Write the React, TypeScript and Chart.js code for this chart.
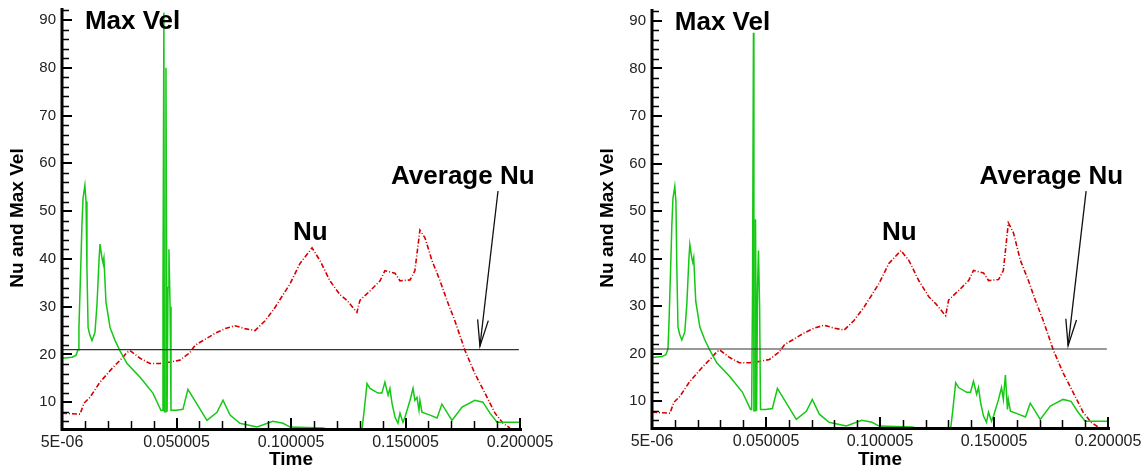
import React, { useEffect, useRef } from 'react';
import { Chart, registerables } from 'chart.js';

Chart.register(...registerables);

const FONT = '"Liberation Sans", Arial, Helvetica, sans-serif';

// ---- axis ticks ----
const xTickValues = [0.000005, 0.050005, 0.100005, 0.150005, 0.200005];
const xTickLabels = ['5E-06', '0.050005', '0.100005', '0.150005', '0.200005'];
const yTickValues = [10, 20, 30, 40, 50, 60, 70, 80, 90];

// ---- Max Vel (green) ----
const velTime = [
  0.000005, 0.0044, 0.0061, 0.0070, 0.0074, 0.0083, 0.0087, 0.0092, 0.0100, 0.0105,
  0.0109, 0.0114, 0.0122, 0.0131, 0.0144, 0.0153, 0.0162, 0.0166, 0.0175, 0.0179,
  0.0183, 0.0192, 0.0210, 0.0231, 0.0253, 0.0284, 0.0341, 0.0397, 0.0432, 0.0437,
  0.0441, 0.0445, 0.0447, 0.0452, 0.0454, 0.0459, 0.0463, 0.0467, 0.0472, 0.0476,
  0.0498, 0.0528, 0.0550, 0.0633, 0.0677, 0.0703, 0.0734, 0.0777, 0.0852, 0.0921,
  0.0965, 0.0996, 0.1140, 0.1192, 0.1301, 0.1310, 0.1319, 0.1332, 0.1345, 0.1380,
  0.1397, 0.1410, 0.1424, 0.1432, 0.1441, 0.1454, 0.1467, 0.1476, 0.1489, 0.1498,
  0.1520, 0.1533, 0.1541, 0.1550, 0.1559, 0.1563, 0.1572, 0.1607, 0.1638, 0.1659,
  0.1703, 0.1747, 0.1803, 0.1838, 0.1869, 0.1900, 0.2000,
];
const maxVelLeft = [
  19.2, 19.4, 19.8, 21, 25.6, 40, 47, 52.7, 55.4, 52,
  38, 25.6, 24, 22.9, 24.6, 30.6, 40, 43.1, 40, 39.2,
  40.2, 31, 25.6, 23, 20.8, 18.1, 15.2, 11.9, 8.3, 8.3,
  33, 91.5, 8, 8, 80, 8, 34, 42, 30, 8.3,
  8.3, 8.5, 12.7, 6.2, 7.9, 10.4, 7.3, 5.6, 4.8, 6.0,
  5.6, 4.8, 4.6, 4.0, 4.0, 4.3, 8, 13.9, 12.9, 11.9,
  11.9, 14.2, 11.5, 12.9, 9.8, 6.9, 5.6, 7.7, 5.8, 6.9,
  10.4, 12.9, 10.4, 11, 8.3, 10.4, 7.9, 7.3, 6.7, 9.6,
  6.2, 9.0, 10.4, 10.0, 7.7, 5.8, 5.8,
];
const maxVelRight = [
  19.2, 19.4, 19.8, 21, 25.6, 40, 47, 52.7, 55.2, 52,
  38, 25.6, 24, 22.9, 24.6, 30.6, 40, 43.0, 40, 39.2,
  40.2, 31, 25.6, 23, 20.8, 18.1, 15.2, 11.9, 8.3, 8.3,
  33, 87.5, 8, 8, 48.3, 8, 34, 41.7, 30, 8.3,
  8.3, 8.5, 12.7, 6.2, 7.9, 10.4, 7.3, 5.6, 4.8, 6.0,
  5.6, 4.8, 4.6, 4.0, 4.0, 4.3, 8, 13.9, 12.9, 11.9,
  11.9, 14.2, 11.5, 12.9, 9.8, 6.9, 5.6, 7.7, 5.8, 6.9,
  10.4, 12.9, 10.4, 15.5, 8.3, 10.4, 7.9, 7.3, 6.7, 9.6,
  6.2, 9.0, 10.4, 10.0, 7.7, 5.8, 5.8,
];

// ---- Nu (red) ----
const nuTime = [
  0.000005, 0.0079, 0.0096, 0.0122, 0.0166, 0.0223, 0.0262, 0.0284, 0.0297, 0.0341,
  0.0384, 0.0428, 0.0472, 0.0515, 0.0559, 0.0581, 0.0616, 0.0668, 0.0712, 0.0755,
  0.0799, 0.0843, 0.0886, 0.0930, 0.0996, 0.1039, 0.1092, 0.1127, 0.1170, 0.1214,
  0.1245, 0.1288, 0.1301, 0.1345, 0.1389, 0.1410, 0.1454, 0.1476, 0.1520, 0.1541,
  0.1563, 0.1585, 0.1616, 0.1651, 0.1681, 0.1716, 0.1760, 0.1803, 0.1847, 0.1891,
  0.1926, 0.1956,
];
const nuLeft = [
  7.7, 7.5, 9.8, 11, 14.2, 17.3, 19.2, 20.4, 20.8, 19.2,
  18.1, 18.1, 18.4, 18.8, 20.4, 21.9, 22.9, 24.4, 25.4, 26,
  25.4, 25, 27, 29.8, 34.8, 39, 42.3, 39.6, 35.4, 32.5,
  31.3, 28.8, 31.3, 33.3, 35.4, 37.5, 37, 35.4, 35.6, 37.5,
  46, 44.4, 39.6, 35.4, 31.3, 27, 20.8, 16, 11.9, 7.7,
  5.6, 4.6,
];
const nuRight = [
  7.7, 7.5, 9.8, 11, 14.2, 17.3, 19.2, 20.4, 20.8, 19.2,
  18.1, 18.1, 18.4, 18.8, 20.4, 21.9, 22.9, 24.4, 25.4, 26,
  25.4, 25, 27, 29.8, 34.8, 39, 41.7, 39.6, 35.4, 32.0,
  30.5, 28.0, 31.3, 33.3, 35.4, 37.5, 37, 35.4, 35.6, 37.5,
  47.5, 45.5, 39.6, 35.4, 31.3, 27, 20.8, 16, 11.9, 7.7,
  5.6, 4.6,
];

// ---- Average Nu (black) ----
const avgTime = [0.000005, 0.1995];
const avgNu = [21, 21];

type PanelProps = {
  vel: number[];
  nu: number[];
  left: number;
  width: number;
  padTop: number;
  chartBottom: number;
  padRight: number;
};

const H = 473;

const axesPlugin = {
  id: 'inwardAxes',
  afterDatasetsDraw(chart: any) {
    const { ctx, chartArea } = chart;
    const xs = chart.scales.x;
    const ys = chart.scales.y;
    const { left, right, top, bottom } = chartArea;
    ctx.save();
    ctx.strokeStyle = '#000';
    ctx.lineCap = 'butt';
    ctx.lineWidth = 1.5;
    for (let v = 6; v <= 92; v += 2) {
      if (v % 10 === 0) continue;
      const p = Math.round(ys.getPixelForValue(v)) + 0.5;
      ctx.beginPath();
      ctx.moveTo(left, p);
      ctx.lineTo(left + 7, p);
      ctx.stroke();
    }
    ctx.lineWidth = 2;
    for (const v of yTickValues) {
      const p = Math.round(ys.getPixelForValue(v));
      ctx.beginPath();
      ctx.moveTo(left, p);
      ctx.lineTo(left + 10, p);
      ctx.stroke();
    }
    ctx.lineWidth = 1.5;
    for (let k = 1; k < 20; k++) {
      if (k % 5 === 0) continue;
      const p = Math.round(xs.getPixelForValue(0.000005 + k * 0.01)) + 0.5;
      ctx.beginPath();
      ctx.moveTo(p, bottom);
      ctx.lineTo(p, bottom - 7);
      ctx.stroke();
    }
    ctx.lineWidth = 2;
    for (const v of xTickValues) {
      const p = Math.round(xs.getPixelForValue(v));
      ctx.beginPath();
      ctx.moveTo(p, bottom);
      ctx.lineTo(p, bottom - 10);
      ctx.stroke();
    }
    ctx.lineWidth = 3;
    ctx.beginPath();
    ctx.moveTo(left, top);
    ctx.lineTo(left, bottom + 1.5);
    ctx.lineTo(right + 2, bottom + 1.5);
    ctx.stroke();
    ctx.restore();
  },
};

const annotationSpec = {
  texts: [
    { text: 'Max Vel', x: 0.0100, y: 88.1 },
    { text: 'Nu', x: 0.1009, y: 44.0 },
    { text: 'Average Nu', x: 0.1437, y: 55.6 },
  ],
  arrow: { fromX: 0.1904, fromY: 54.2, toX: 0.1825, toY: 21.7 },
};

const annotationPlugin = {
  id: 'annotations',
  afterDraw(chart: any) {
    const { ctx } = chart;
    const xs = chart.scales.x;
    const ys = chart.scales.y;
    ctx.save();
    ctx.fillStyle = '#000';
    ctx.font = `bold 26px ${FONT}`;
    ctx.textAlign = 'left';
    ctx.textBaseline = 'alphabetic';
    for (const t of annotationSpec.texts) {
      ctx.fillText(t.text, xs.getPixelForValue(t.x), ys.getPixelForValue(t.y));
    }
    const a = annotationSpec.arrow;
    const x1 = xs.getPixelForValue(a.fromX);
    const y1 = ys.getPixelForValue(a.fromY);
    const x2 = xs.getPixelForValue(a.toX);
    const y2 = ys.getPixelForValue(a.toY);
    ctx.strokeStyle = '#111';
    ctx.lineWidth = 1.3;
    ctx.beginPath();
    ctx.moveTo(x1, y1);
    ctx.lineTo(x2, y2);
    ctx.stroke();
    const ang = Math.atan2(y1 - y2, x1 - x2);
    const len = 27;
    const spread = 0.2;
    ctx.beginPath();
    ctx.moveTo(x2 + len * Math.cos(ang - spread), y2 + len * Math.sin(ang - spread));
    ctx.lineTo(x2, y2);
    ctx.lineTo(x2 + len * Math.cos(ang + spread), y2 + len * Math.sin(ang + spread));
    ctx.stroke();
    ctx.restore();
  },
};

function Panel({ vel, nu, left, width, padTop, chartBottom, padRight }: PanelProps) {
  const ref = useRef<HTMLCanvasElement | null>(null);
  useEffect(() => {
    if (!ref.current) return;
    const chart = new Chart(ref.current, {
      type: 'line',
      data: {
        datasets: [
          {
            label: 'Average Nu',
            data: avgTime.map((t, i) => ({ x: t, y: avgNu[i] })),
            borderColor: '#333',
            borderWidth: 1.2,
            pointRadius: 0,
            tension: 0,
          },
          {
            label: 'Max Vel',
            data: velTime.map((t, i) => ({ x: t, y: vel[i] })),
            borderColor: '#14c814',
            borderWidth: 1.5,
            pointRadius: 0,
            tension: 0,
          },
          {
            label: 'Nu',
            data: nuTime.map((t, i) => ({ x: t, y: nu[i] })),
            borderColor: '#d60000',
            borderWidth: 1.6,
            borderDash: [5, 2, 1, 2],
            pointRadius: 0,
            tension: 0,
          },
        ],
      },
      options: {
        animation: false,
        responsive: false,
        devicePixelRatio: 1,
        layout: { padding: { left: 0, top: padTop, right: padRight, bottom: 0 } },
        plugins: { legend: { display: false }, tooltip: { enabled: false } },
        scales: {
          x: {
            type: 'linear',
            min: 0.000005,
            max: 0.200005,
            afterBuildTicks: (s: any) => {
              s.ticks = xTickValues.map((v) => ({ value: v }));
            },
            afterFit: (s: any) => {
              s.height = H - chartBottom;
              s.paddingLeft = 0;
              s.paddingRight = 0;
            },
            grid: { display: false, drawTicks: false },
            border: { display: false },
            ticks: {
              autoSkip: false,
              maxRotation: 0,
              padding: 5,
              color: '#222',
              font: { family: FONT, size: 16 },
              callback: (v: any) => xTickLabels[xTickValues.indexOf(Number(v))] ?? '',
            },
            title: {
              display: true,
              text: 'Time',
              color: '#000',
              font: { family: FONT, size: 19, weight: 'bold' },
              padding: { top: 0, bottom: 2 },
            },
          },
          y: {
            type: 'linear',
            min: 4.6,
            max: 92.5,
            afterBuildTicks: (s: any) => {
              s.ticks = yTickValues.map((v) => ({ value: v }));
            },
            afterFit: (s: any) => {
              s.width = 62;
              s.paddingTop = 0;
              s.paddingBottom = 0;
            },
            grid: { display: false, drawTicks: false },
            border: { display: false },
            ticks: {
              padding: 6,
              color: '#222',
              font: { family: FONT, size: 15 },
            },
            title: {
              display: true,
              text: 'Nu and Max Vel',
              color: '#000',
              font: { family: FONT, size: 19, weight: 'bold' },
              padding: { top: 6, bottom: 0 },
            },
          },
        },
      },
      plugins: [axesPlugin, annotationPlugin],
    } as any);
    return () => chart.destroy();
  }, [vel, nu, padTop, chartBottom, padRight]);
  return (
    <canvas
      ref={ref}
      width={width}
      height={H}
      style={{ position: 'absolute', left, top: 0, width, height: H }}
    />
  );
}

export default function App() {
  return (
    <div
      style={{
        position: 'absolute',
        left: 0,
        top: 0,
        width: 1146,
        height: H,
        background: '#fff',
        overflow: 'hidden',
      }}
    >
      <Panel vel={maxVelLeft} nu={nuLeft} left={0} width={580} padTop={8} chartBottom={428} padRight={60} />
      <Panel vel={maxVelRight} nu={nuRight} left={590} width={556} padTop={9} chartBottom={427} padRight={38} />
    </div>
  );
}
